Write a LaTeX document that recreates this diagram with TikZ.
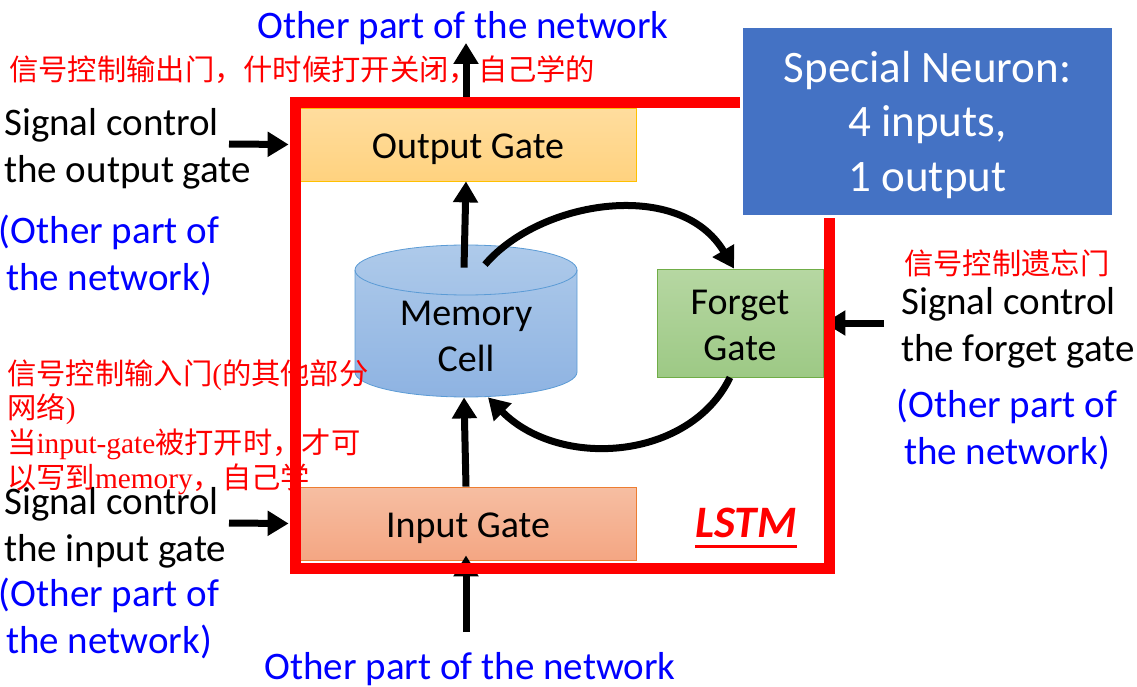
\documentclass[tikz,border=0pt]{standalone}
\usepackage{fontspec}
\setmainfont{Carlito}
\newfontfamily\cjk{Noto Sans CJK SC}
\newfontfamily\zhlatin{Liberation Serif}
\usetikzlibrary{arrows.meta,positioning}

\definecolor{netblue}{HTML}{0000FF}
\definecolor{neuronblue}{HTML}{4472C4}
\definecolor{outtop}{HTML}{FFDD9E}
\definecolor{outbot}{HTML}{FFD27F}
\definecolor{outline}{HTML}{FFC000}
\definecolor{intop}{HTML}{F6BEA2}
\definecolor{inbot}{HTML}{F4A683}
\definecolor{inline}{HTML}{ED7D31}
\definecolor{fgtop}{HTML}{B6D7A2}
\definecolor{fgbot}{HTML}{9DC985}
\definecolor{fgline}{HTML}{70AD47}
\definecolor{celltop}{HTML}{AECAEA}
\definecolor{cellbot}{HTML}{8EB3E2}
\definecolor{cellline}{HTML}{5B9BD5}

\begin{document}
\begin{tikzpicture}[x=1pt,y=-1pt,
    flow/.style={line width=7pt,-{Triangle[length=21pt,width=24pt]}},
    gate/.style={rectangle,line width=0.8pt,inner sep=0pt},
    gatetext/.style={inner sep=0pt,align=center,yshift=-4.5pt,
                     font=\fontsize{38}{46}\selectfont},
    note/.style={inner sep=0pt,font=\fontsize{39}{47}\selectfont},
    other/.style={note,text=netblue,align=center},
    zh/.style={inner sep=0pt,text=red,align=left,font=\cjk\fontsize{29.3}{34.7}\selectfont}]
  \useasboundingbox (0,0) rectangle (1137,687);

  % texts round the cell
  \node[other] (topnet) at (463,28) {Other part of the network};
  \node[other] (botnet) at (470,669) {Other part of the network};

  \node[note,align=left,anchor=west] (outsig) at (4,149) {Signal control\\the output gate};
  \node[other] (outnet) at (109,255) {(Other part of\\the network)};
  \node[note,align=left,anchor=west] (insig) at (4,528) {Signal control\\the input gate};
  \node[other] (innet) at (109,618) {(Other part of\\the network)};
  \node[note,align=left,anchor=west] (fgsig) at (901,328) {Signal control\\the forget gate};
  \node[other] (fgnet) at (1007,429) {(Other part of\\the network)};

  % memory cell
  \path[top color=celltop,bottom color=cellbot,draw=cellline,line width=0.8pt]
    (355,270) -- (355,372) arc[start angle=180,end angle=360,x radius=111pt,y radius=25pt]
    -- (577,270) arc[start angle=0,end angle=180,x radius=111pt,y radius=25pt] -- cycle;
  \draw[cellline,line width=0.8pt] (355,270) arc[start angle=180,end angle=360,x radius=111pt,y radius=25pt];
  \node[gate,minimum width=222pt,minimum height=127pt,
        label={[gatetext,yshift=1.5pt]center:Memory\\Cell}] (cell) at (466,333.5) {};

  % red notes
  \node[zh,anchor=west] (zhout) at (9,70) {信号控制输出门，什时候打开关闭，自己学的};
  \node[zh,anchor=west] (zhin) at (7,427)
        {信号控制输入门{\zhlatin(}的其他部分\\网络{\zhlatin)}\\当{\zhlatin input-gate}被打开时，才可\\以写到{\zhlatin memory}，自己学};
  \node[zh,anchor=west] (zhforget) at (904,263) {信号控制遗忘门};

  % gates
  \node[gate,draw=outline,top color=outtop,bottom color=outbot,
        minimum width=336pt,minimum height=73pt,
        label={[gatetext]center:Output Gate}] (outgate) at (468,144.5) {};
  \node[gate,draw=inline,top color=intop,bottom color=inbot,
        minimum width=336pt,minimum height=73pt,
        label={[gatetext]center:Input Gate}] (ingate) at (468,523.5) {};
  \node[gate,draw=fgline,top color=fgtop,bottom color=fgbot,
        minimum width=166pt,minimum height=108pt,
        label={[gatetext,yshift=2.5pt]center:Forget\\Gate}] (forget) at (740,323) {};

  \coordinate (outtip) at (466,43);
  \coordinate (outsrc) at (229,144);
  \coordinate (insrc)  at (229,523);
  \coordinate (fgsrc)  at (884,323);
  \coordinate (netsrc) at (466,632);

  \path[flow]
    ([xshift=-2pt]outgate.north) edge (outtip)
    ([xshift=-2pt,yshift=2pt]cell.north) edge ([xshift=-2pt]outgate.south)
    ([xshift=-2pt]ingate.north) edge ([xshift=-2pt]cell.south)
    (netsrc) edge ([xshift=-2pt,yshift=5pt]ingate.south)
    (outsrc) edge ([xshift=-11pt]outgate.west)
    (insrc)  edge ([xshift=-11pt]ingate.west)
    (fgsrc)  edge ([xshift=1pt]forget.east);
  \draw[flow] ([xshift=19pt,yshift=5pt]cell.north) .. controls (540,200) and (680,178) .. ([xshift=-6pt]forget.north);
  \draw[flow] ([xshift=-10pt]forget.south) .. controls (690,460) and (560,470) .. ([xshift=22pt]cell.south);

  % the LSTM frame
  \draw[red,line width=11pt] (740,103) -- (295,103) -- (295,568) -- (829,568) -- (829,218);
  \node[inner sep=0pt,text=red,font=\fontsize{45}{45}\selectfont\bfseries\itshape] (lstm) at (746,523) {LSTM};
  \draw[red,line width=3pt] ([yshift=-8pt]lstm.south west) -- ([yshift=-8pt]lstm.south east);

  \node[fill=neuronblue,text=white,inner sep=0pt,align=center,minimum width=369pt,minimum height=187pt,
        font=\fontsize{45}{54.5}\selectfont] (neuron) at (927.5,121.5) {};
  \node[inner sep=0pt,text=white,align=center,font=\fontsize{45}{54.5}\selectfont]
        (neurontext) at (927.5,125) {Special Neuron:\\4 inputs,\\1 output};
\end{tikzpicture}
\end{document}
